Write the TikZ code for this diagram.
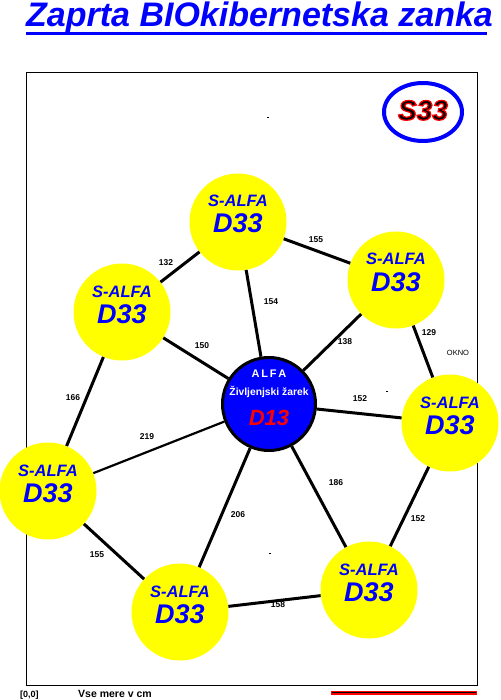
\documentclass[tikz,border=0pt]{standalone}
\usepackage{fontspec}
\setmainfont{Liberation Sans}
\definecolor{pblue}{RGB}{0,0,255}
\definecolor{pyellow}{RGB}{255,255,0}
\definecolor{pred}{RGB}{255,0,0}
\begin{document}
\begin{tikzpicture}[x=1pt,y=-1pt,
  sa/.style={circle,fill=pyellow,minimum size=97pt,inner sep=0pt},
  satxt/.style={anchor=base,inner sep=0pt,text=pblue,font=\fontsize{16.5}{18}\selectfont\bfseries\itshape},
  dtxt/.style={anchor=base,inner sep=0pt,text=pblue,font=\fontsize{27}{30}\selectfont\bfseries\itshape},
  conn/.style={line width=3pt,black},
  thinconn/.style={line width=2.2pt,black},
  lbl/.style={inner sep=0pt,font=\fontsize{8.5}{9}\selectfont\bfseries},
  tinymark/.style={fill=black}
]
\useasboundingbox (0,0) rectangle (500,700);
% title
\node[anchor=base west,inner sep=0pt,text=pblue,font=\fontsize{34}{40}\selectfont\bfseries\itshape] (title) at (26,27) {Zaprta BIOkibernetska zanka};
\fill[pblue] (26,32) rectangle (487,35.5);
% frame
\draw[line width=1pt] (26.5,72.5) rectangle (477.5,685.5);
% S33 badge
\draw[pblue,line width=4pt] (423,112) ellipse [x radius=39, y radius=29];
\node[anchor=base,inner sep=0pt,text=black,font=\fontsize{28}{30}\selectfont\bfseries\itshape] (s33) at (423,120) {\special{pdf:literal direct 1 0 0 RG 1.2 w 2 Tr}S33\special{pdf:literal direct 0 Tr}};
% circles
\node[sa] (t)  at (238,222) {};
\node[sa] (ul) at (122,312) {};
\node[sa] (ur) at (396,280) {};
\node[sa] (r)  at (450,423) {};
\node[sa] (l)  at (48,491) {};
\node[sa] (bl) at (180,612) {};
\node[sa] (br) at (369,590) {};
\node[circle,fill=pblue,draw=black,line width=3pt,minimum size=93pt,inner sep=0pt] (c) at (269,404) {};
% texts in circles
\foreach \n in {t,ul,ur,r,l,bl,br}{
  \node[satxt] (\n sa) at ([yshift=15pt]\n.center) {S-ALFA};
  \node[dtxt] (\n d) at ([yshift=-11pt]\n.center) {D33};
}
\node[anchor=base,inner sep=0pt,text=white,font=\fontsize{11}{12}\selectfont\bfseries] (calfa) at (269,377) {A\,L\,F\,A};
\node[anchor=base,inner sep=0pt,text=white,font=\fontsize{10.3}{12}\selectfont\bfseries] (czar) at (269,395) {Življenjski žarek};
\node[anchor=base,inner sep=0pt,text=pred,font=\fontsize{22}{24}\selectfont\bfseries\itshape] (cd) at (269,425) {D13};
% connectors
\draw[conn] (t) -- (ul);
\draw[conn] (t) -- (ur);
\draw[conn] (t) -- (c);
\draw[conn] (ul) -- (c);
\draw[conn] (ur) -- (c);
\draw[conn] (ur) -- (r);
\draw[conn] (r) -- (c);
\draw[conn] (ul) -- (l);
\draw[thinconn] (l) -- (c);
\draw[conn] (c) -- (bl);
\draw[conn] (c) -- (br);
\draw[conn] (r) -- (br);
\draw[conn] (l) -- (bl);
\draw[conn] (bl) -- (br);
% labels
\node[lbl] (l132) at (166,263) {132};
\node[lbl] (l155a) at (316,240) {155};
\node[lbl] (l154) at (271,302) {154};
\node[lbl] (l150) at (202,346) {150};
\node[lbl] (l138) at (345,342) {138};
\node[lbl] (l129) at (429,333) {129};
\node[lbl] (l152a) at (360,399) {152};
\node[lbl] (l166) at (73,398) {166};
\node[lbl] (l219) at (147,437) {219};
\node[lbl] (l206) at (238,515) {206};
\node[lbl] (l186) at (336,483) {186};
\node[lbl] (l152b) at (418,519) {152};
\node[lbl] (l155b) at (97,555) {155};
\node[lbl] (l158) at (278,605) {158};
\node[inner sep=0pt,font=\fontsize{7.5}{8}\selectfont] (okno) at (458,353) {OKNO};
% tiny marks
\fill[tinymark] (267,117.5) rectangle (269,118.5);
\fill[tinymark] (386,390.5) rectangle (388,391.5);
\fill[tinymark] (269,552.5) rectangle (271,553.5);
% bottom
\node[anchor=base west,inner sep=0pt,font=\fontsize{9}{10}\selectfont\bfseries] (origin) at (20,697) {[0,0]};
\node[anchor=base west,inner sep=0pt,font=\fontsize{10.5}{12}\selectfont\bfseries] (mere) at (78,697) {Vse mere v cm};
\fill[pred] (331,690.5) rectangle (477,694.5);
\fill[black] (332,691.8) rectangle (476,693.2);
\end{tikzpicture}
\end{document}
